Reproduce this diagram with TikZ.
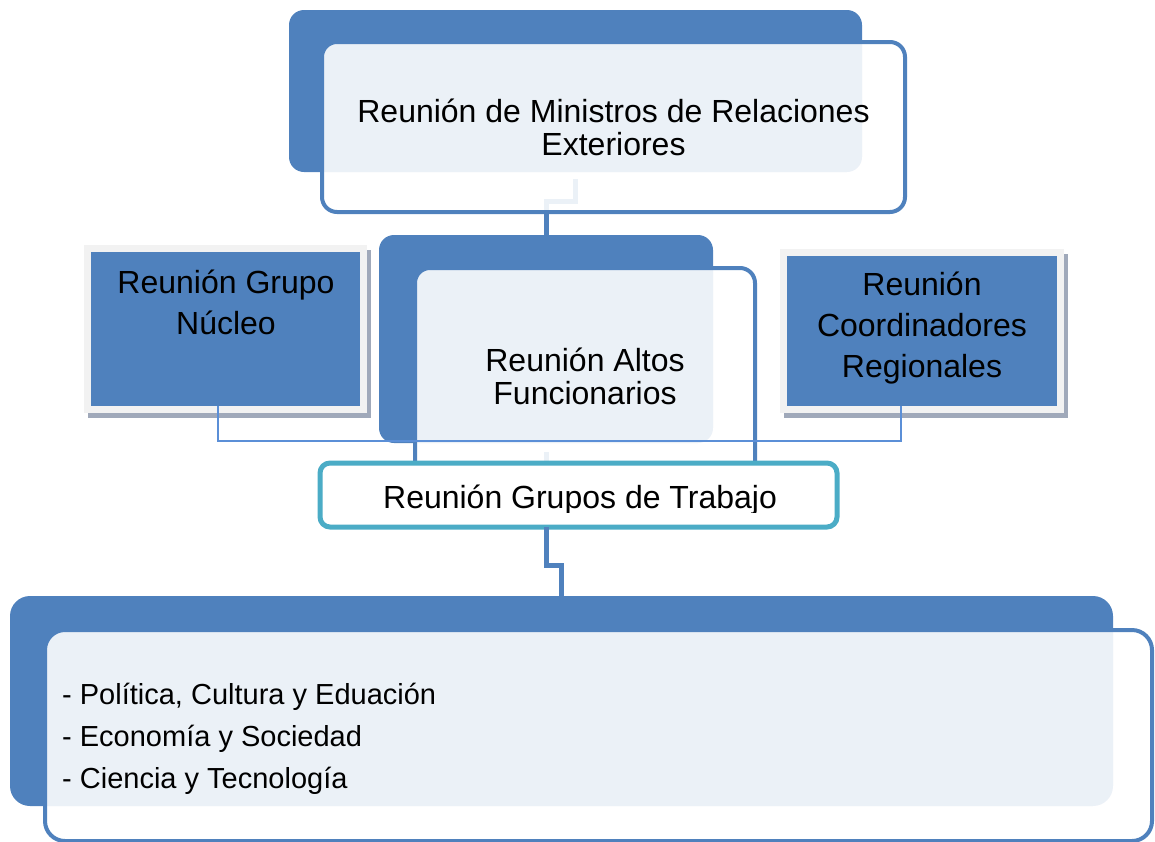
\documentclass[tikz,border=0pt]{standalone}
\usepackage{fontspec}
\setmainfont{Liberation Sans}
\usetikzlibrary{calc,shadows}
\definecolor{mblue}{HTML}{4F81BD}
\definecolor{tblue}{HTML}{5B8FD7}
\definecolor{tealc}{HTML}{4BACC6}
\definecolor{framec}{HTML}{F2F2F2}
\definecolor{shadowc}{HTML}{A0A9BA}
\begin{document}
\begin{tikzpicture}[x=1pt,y=-1pt,
  darkbox/.style={fill=mblue, inner sep=0pt, outer sep=0pt},
  glassbox/.style={draw=mblue, line width=4pt, fill=white, fill opacity=0.89, text opacity=1, inner sep=0pt, outer sep=0pt, align=center, font=\fontsize{32}{33}\selectfont},
  conn/.style={draw=mblue, line width=5pt},
  thinconn/.style={draw=tblue, line width=2pt},
  framebox/.style={fill=framec, inner sep=0pt, outer sep=0pt, drop shadow={shadow xshift=4pt, shadow yshift=-5pt, fill=shadowc, opacity=1}},
  bluebox/.style={fill=mblue, inner sep=0pt, outer sep=0pt},
  sidetext/.style={align=center, font=\fontsize{32}{41}\selectfont, inner sep=0pt},
  grpbox/.style={draw=tealc, line width=5pt, fill=white, rounded corners=10pt, inner sep=0pt, outer sep=0pt},
]
\useasboundingbox (0,0) rectangle (1155,841);

% top block
\node[darkbox, rounded corners=15pt, minimum width=573pt, minimum height=162pt] (topD) at (575.5,91) {};
\path (546,339) coordinate (altC);
\draw[conn] ([yshift=-7pt]topD.south) -- ++(0,22) -| ($(altC)+(0,-104)$);
\node[glassbox, rounded corners=15pt, minimum width=583pt, minimum height=170pt] (topG) at (613.5,127) {Reunión de Ministros de Relaciones\\Exteriores};

% Altos block
\node[darkbox, rounded corners=15pt, minimum width=334pt, minimum height=208pt] (altD) at (altC) {};
\draw[conn] ([yshift=-9pt]altD.south) -- ++(0,30);
\node[glassbox, rounded corners=15pt, minimum width=340pt, minimum height=217pt] (altG) at (585,376.5) {Reunión Altos\\Funcionarios};

% Grupos de Trabajo
\node[grpbox, minimum width=517pt, minimum height=64pt] (grp) at (578.5,495) {};
\begin{scope}
\clip ([yshift=-2pt]grp.north west) rectangle ([yshift=15pt]grp.south east);
\node[anchor=base, inner sep=0pt, font=\fontsize{32}{33}\selectfont] (grpT) at (580,508) {Reunión Grupos de Trabajo};
\end{scope}

% bottom block
\node[darkbox, rounded corners=20pt, minimum width=1103pt, minimum height=210pt] (botD) at (561.5,701) {};
\draw[conn] (altD.south |- grp.south) -- ++(0,38) -| (botD.north);
\node[glassbox, rounded corners=20pt, minimum width=1107pt, minimum height=211pt] (botG) at (598.5,735.5) {};
\node[anchor=west, align=left, inner sep=0pt, font=\fontsize{29}{42}\selectfont] (botT) at (62,738.5) {- Política, Cultura y Eduación\\- Economía y Sociedad\\- Ciencia y Tecnología};

% side boxes
\node[framebox, minimum width=283pt, minimum height=168pt] (nucF) at (225.5,329) {};
\node[bluebox, minimum width=269pt, minimum height=154pt] (nucB) at (225.5,329) {};
\node[sidetext] (nucT) at (226,302) {Reunión Grupo\\Núcleo};

\node[framebox, minimum width=284pt, minimum height=164pt] (corF) at (922,331) {};
\node[bluebox, minimum width=270pt, minimum height=150pt] (corB) at (922,331) {};
\node[sidetext] (corT) at (922,328) {Reunión\\Coordinadores\\Regionales};

\draw[thinconn] ([xshift=-7.5pt]nucB.south) -- ++(0,35) -| ([xshift=-21pt]corB.south);
\end{tikzpicture}
\end{document}
